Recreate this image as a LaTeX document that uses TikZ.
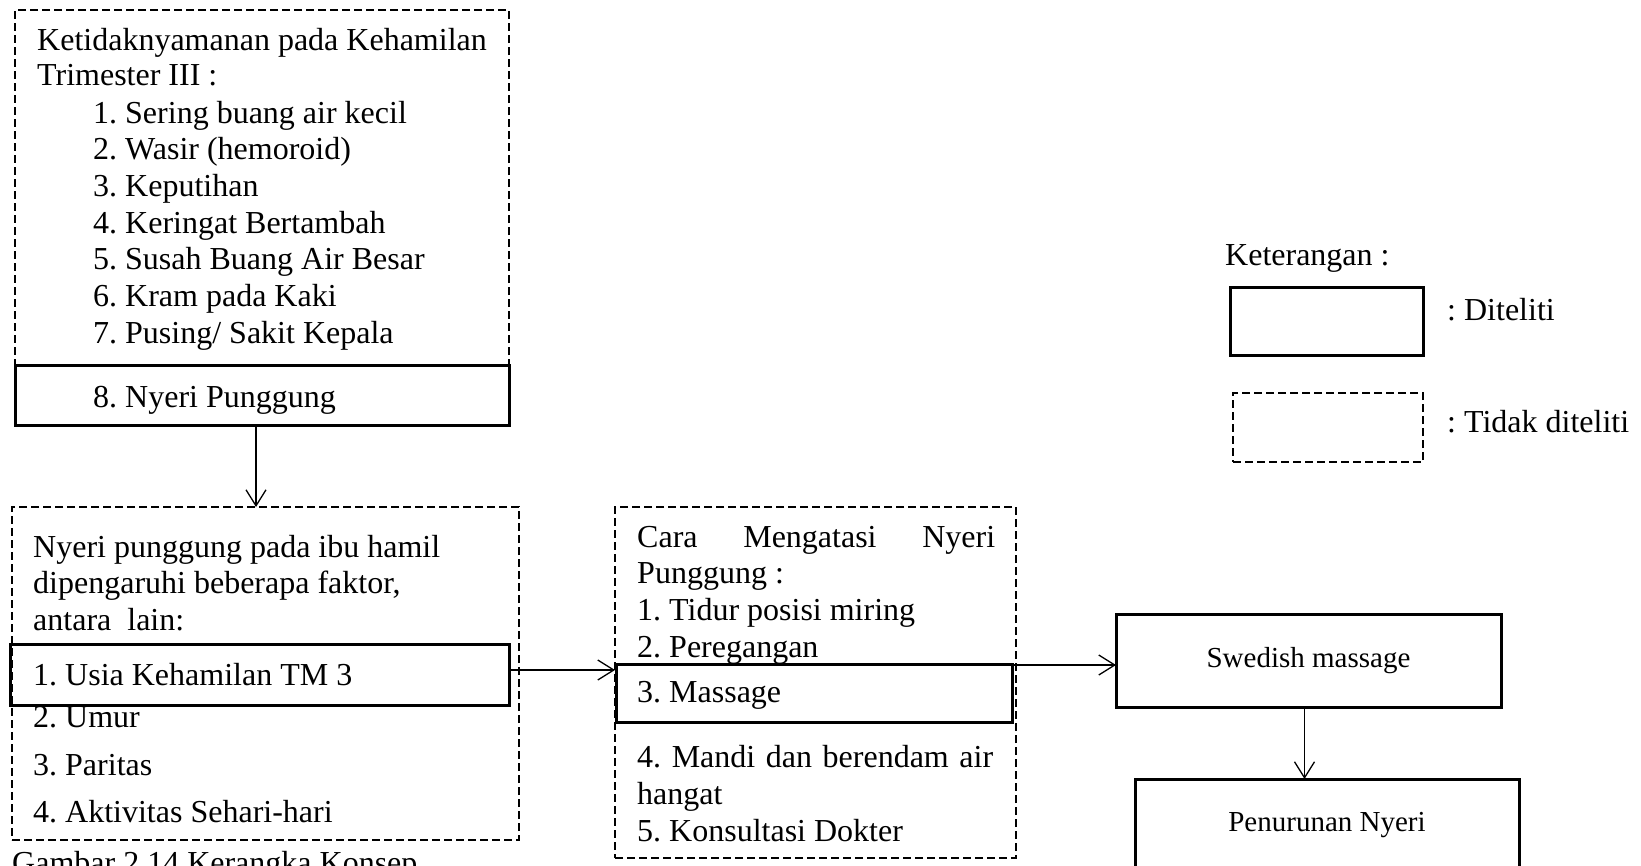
\documentclass[tikz,border=0pt]{standalone}
\usepackage{fontspec}
\setmainfont{Liberation Serif}
\frenchspacing
\usetikzlibrary{arrows.meta}
\tikzset{
  solidbox/.style={draw, line width=3pt, inner sep=0pt, outer sep=0pt, fill=white},
  dashbox/.style={draw, line width=2.5pt, dash pattern=on 8pt off 4pt, inner sep=0pt, outer sep=0pt},
  txt/.style={anchor=base west, inner sep=0pt, font=\fontsize{32}{37}\selectfont},
  smalltxt/.style={font=\fontsize{29}{34}\selectfont},
  arr/.style={-{Straight Barb[length=16pt,width=20pt]}, line width=1.3pt}
}
\begin{document}
\begin{tikzpicture}[x=1pt,y=-1pt]
\useasboundingbox (0,0) rectangle (1641,865);
% kotak atas
\node[dashbox, minimum width=494, minimum height=355] (ketidak) at (262,187.5) {};
\node[solidbox, minimum width=494, minimum height=60] (nyeri8) at (262,395) {};
\node[txt] (k0) at (37,50) {Ketidaknyamanan pada Kehamilan};
\node[txt] (k00) at (37,85) {Trimester III :};
\node[txt] (k1) at (93,123) {1. Sering buang air kecil};
\node[txt] (k2) at (93,159.7) {2. Wasir (hemoroid)};
\node[txt] (k3) at (93,196.4) {3. Keputihan};
\node[txt] (k4) at (93,233.1) {4. Keringat Bertambah};
\node[txt] (k5) at (93,269.8) {5. Susah Buang Air Besar};
\node[txt] (k6) at (93,306.5) {6. Kram pada Kaki};
\node[txt] (k7) at (93,343.2) {7. Pusing/ Sakit Kepala};
\node[txt] (k8) at (93,407) {8. Nyeri Punggung};
% faktor
\node[dashbox, minimum width=507, minimum height=333] (faktor) at (265.5,673.5) {};
\node[solidbox, fill=none, minimum width=499, minimum height=61] (usia) at (259.5,674.5) {};
\node[txt] (f0) at (33,557) {Nyeri punggung pada ibu hamil};
\node[txt] (f00) at (33,593) {dipengaruhi beberapa faktor,};
\node[txt] (f000) at (33,630) {antara\ \ lain:};
\node[txt] (f1) at (33,685) {1. Usia Kehamilan TM 3};
\node[txt] (f2) at (33,727) {2. Umur};
\node[txt] (f3) at (33,775) {3. Paritas};
\node[txt] (f4) at (33,822) {4. Aktivitas Sehari-hari};
\node[txt] (judul) at (12,873) {Gambar 2.14 Kerangka Konsep};
% cara mengatasi
\node[dashbox, minimum width=401, minimum height=351] (cara) at (815.5,682.5) {};
\node[solidbox, fill=none, minimum width=396, minimum height=58] (massage) at (814,693) {};
\node[txt] (c0) at (637,547) {\makebox[358pt][s]{Cara Mengatasi Nyeri}};
\node[txt] (c00) at (637,583) {Punggung :};
\node[txt] (c1) at (637,620) {1. Tidur posisi miring};
\node[txt] (c2) at (637,657) {2. Peregangan};
\node[txt] (c3) at (637,702) {3. Massage};
\node[txt] (c4) at (637,767) {\makebox[356pt][s]{4. Mandi dan berendam air}};
\node[txt] (c44) at (637,804) {hangat};
\node[txt] (c5) at (637,841) {5. Konsultasi Dokter};
% swedish massage
\node[solidbox, smalltxt, minimum width=385, minimum height=93] (swedish) at (1308.5,660.5) {Swedish massage};
\node[solidbox, smalltxt, minimum width=384, minimum height=93] (turun) at (1327,825.5) {Penurunan Nyeri};
% keterangan
\node[txt] (ket) at (1225,265) {Keterangan :};
\node[solidbox, minimum width=193, minimum height=68] (lsolid) at (1326.5,321) {};
\node[dashbox, minimum width=190, minimum height=69] (ldash) at (1328,427.5) {};
\node[txt] (lt1) at (1447,320) {: Diteliti};
\node[txt] (lt2) at (1447,432) {: Tidak diteliti};
% panah
\draw[arr] ([xshift=-6pt]nyeri8.south) -- ([xshift=-6pt]nyeri8.south |- faktor.north);
\draw[arr] ([yshift=4.5pt]usia.east) -- ([yshift=4.5pt]usia.east -| cara.west);
\draw[arr] ([yshift=-1pt]massage.north east) -- ([yshift=-1pt]massage.north east -| swedish.west);
\draw[arr] ([xshift=-4pt]swedish.south) -- ([xshift=-4pt]swedish.south |- turun.north);
\end{tikzpicture}
\end{document}
